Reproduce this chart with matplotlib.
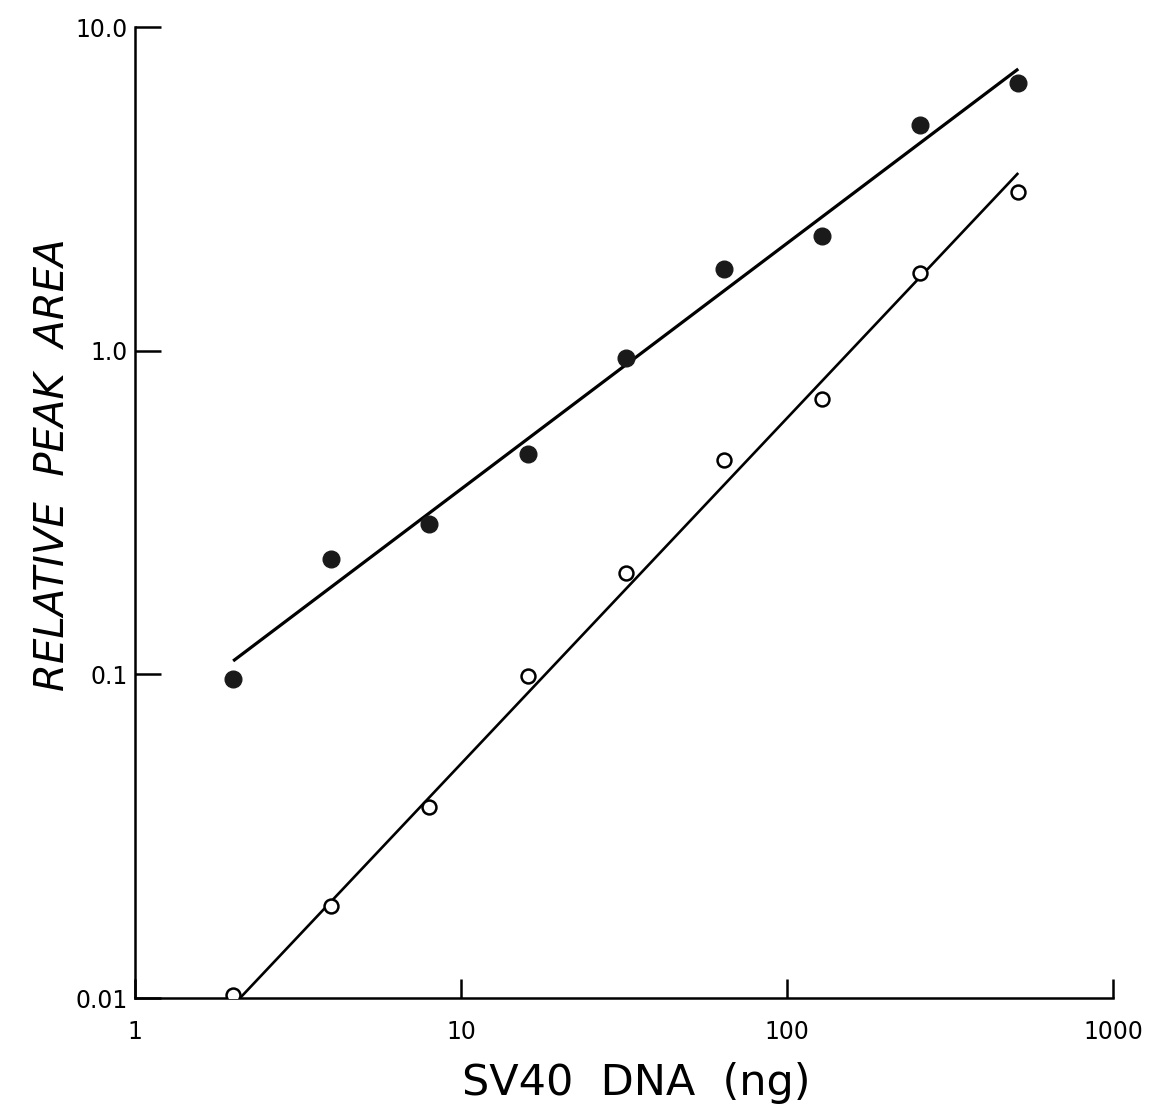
import matplotlib
matplotlib.use("Agg")
import matplotlib.pyplot as plt
from matplotlib.ticker import FixedLocator, NullLocator

# SV40 DNA (ng)
dna = [2, 4, 8, 16, 32, 64, 128, 256, 512]
# relative peak area, filled and open symbols
filled = [0.097, 0.228, 0.292, 0.478, 0.95, 1.79, 2.26, 4.98, 6.72]
opened = [0.0102, 0.0192, 0.0389, 0.0986, 0.206, 0.461, 0.711, 1.74, 3.09]

# fitted lines (end points)
fit_filled_x = [2.0, 512]
fit_filled_y = [0.110, 7.42]
fit_open_x = [2.1, 512]
fit_open_y = [0.0100, 3.54]

xticks = [1, 10, 100, 1000]
xlabels = ["1", "10", "100", "1000"]
yticks = [0.01, 0.1, 1.0, 10.0]
ylabels = ["0.01", "0.1", "1.0", "10.0"]

fig = plt.figure(figsize=(11.49, 11.12), dpi=100)
ax = fig.add_axes([0.1175, 0.1025, 0.8512, 0.8732])

ax.plot(fit_filled_x, fit_filled_y, color="black", lw=2.3, solid_capstyle="butt")
ax.plot(fit_open_x, fit_open_y, color="black", lw=1.9, solid_capstyle="butt")
ax.plot(dna, filled, "o", color="#1a1a1a", ms=12, zorder=3)
ax.plot(dna, opened, "o", mfc="white", mec="black", mew=1.8, ms=10, zorder=3)

ax.set_xscale("log")
ax.set_yscale("log")
ax.set_xlim(1, 1000)
ax.set_ylim(0.01, 10)

ax.xaxis.set_major_locator(FixedLocator(xticks))
ax.yaxis.set_major_locator(FixedLocator(yticks))
ax.xaxis.set_minor_locator(NullLocator())
ax.yaxis.set_minor_locator(NullLocator())
ax.set_xticklabels(xlabels, fontsize=17)
ax.set_yticklabels(ylabels, fontsize=17)
ax.tick_params(axis="x", direction="in", length=14, width=1.8, pad=16)
ax.tick_params(axis="y", direction="in", length=19, width=1.8, pad=5)

for s in ["top", "right"]:
    ax.spines[s].set_visible(False)
for s in ["left", "bottom"]:
    ax.spines[s].set_linewidth(1.8)

ax.set_xlabel("SV40  DNA  (ng)", fontsize=31)
ax.xaxis.set_label_coords(0.513, -0.066)
ax.set_ylabel("RELATIVE  PEAK  AREA", fontsize=29, style="italic")
ax.yaxis.set_label_coords(-0.064, 0.549)

fig.savefig("out.png", dpi=100)
